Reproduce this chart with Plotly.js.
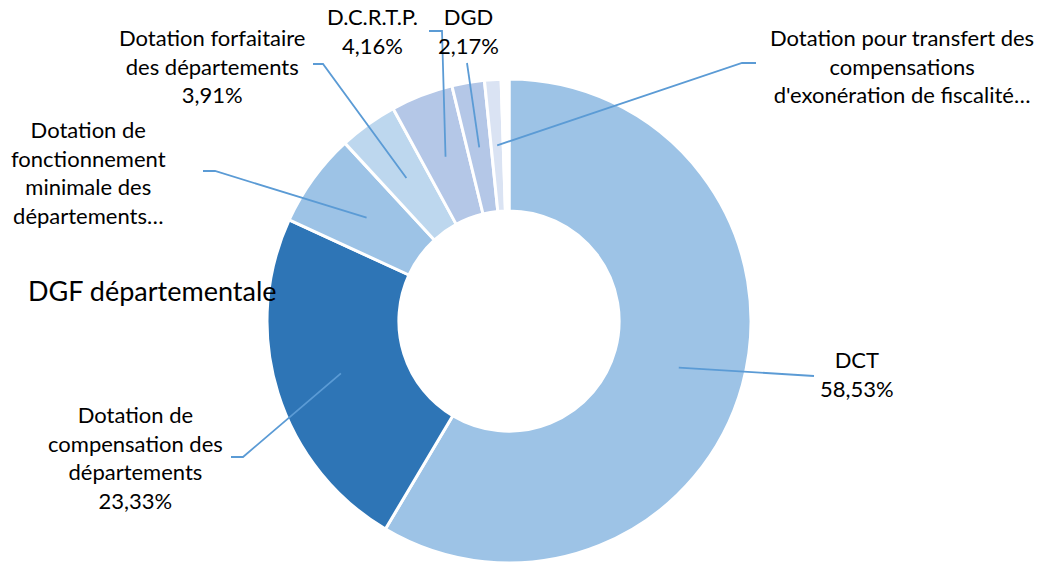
<!DOCTYPE html>
<html>
<head>
<meta charset="utf-8">
<script src="https://cdn.plot.ly/plotly-3.0.1.min.js"></script>
<style>html,body{margin:0;padding:0;background:#fff;}#chart{width:1040px;height:567px;}</style>
</head>
<body>
<div id="chart"></div>
<script>
// ---- data ----
const categories = [
  "DCT",
  "Dotation de compensation des départements",
  "Dotation de fonctionnement minimale des départements",
  "Dotation forfaitaire des départements",
  "D.C.R.T.P.",
  "DGD",
  "Dotation pour transfert des compensations d'exonération de fiscalité",
  ""
];
const shares = [58.53, 23.33, 6.28, 3.91, 4.16, 2.17, 1.10, 0.52];
const labelTexts = [
  "DCT<br>58,53%",
  "Dotation de<br>compensation des<br>départements<br>23,33%",
  "Dotation de<br>fonctionnement<br>minimale des<br>départements…",
  "Dotation forfaitaire<br>des départements<br>3,91%",
  "D.C.R.T.P.<br>4,16%",
  "DGD<br>2,17%",
  "Dotation pour transfert des<br>compensations<br>d'exonération de fiscalité…",
  ""
];
const sliceColors = ["#9DC3E6", "#2E75B6", "#9DC3E6", "#BDD7EE", "#B4C7E7", "#B4C7E7", "#DAE3F3", "#FFFFFF"];
const chartTitle = "DGF départementale";

// ---- layout settings (pixels) ----
const W = 1040, H = 567;
const CX = 509, CY = 321, R = 242, HOLE = 0.455;
// label centre, elbow point and end point of each leader line
const labelPos = [
  {x: 857, y: 374, elbow: [814, 376], end: [814, 376]},
  {x: 135, y: 457, elbow: [243, 457], end: [231, 457]},
  {x: 88,  y: 173, elbow: [215, 171], end: [203, 171]},
  {x: 212, y: 66,  elbow: [323, 64],  end: [313, 64]},
  {x: 372, y: 31,  elbow: [442, 31],  end: [429, 31]},
  {x: 468, y: 31,  elbow: [467, 63],  end: [467, 63]},
  {x: 902, y: 66,  elbow: [742, 63],  end: [756, 63]},
  null
];

const px = x => x / W;
const py = y => 1 - y / H;

const trace = {
  type: "pie",
  labels: categories,
  values: shares,
  sort: false,
  direction: "clockwise",
  rotation: 0,
  hole: HOLE,
  textinfo: "none",
  hoverinfo: "label+percent",
  marker: {colors: sliceColors, line: {color: "#FFFFFF", width: 3}},
  domain: {x: [px(CX - R), px(CX + R)], y: [py(CY + R), py(CY - R)]},
  showlegend: false
};

const total = shares.reduce((a, b) => a + b, 0);
const shapes = [];
const annotations = [];
let cum = 0;
const rMid = R * (1 + HOLE) / 2;
shares.forEach((v, i) => {
  const mid = (cum + v / 2) / total * 2 * Math.PI;
  cum += v;
  const lp = labelPos[i];
  if (!lp) return;
  const ax = CX + rMid * Math.sin(mid);
  const ay = CY - rMid * Math.cos(mid);
  shapes.push({
    type: "path", xref: "paper", yref: "paper",
    path: `M ${px(ax)},${py(ay)} L ${px(lp.elbow[0])},${py(lp.elbow[1])} L ${px(lp.end[0])},${py(lp.end[1])}`,
    line: {color: "#5B9BD5", width: 1.8}
  });
  annotations.push({
    xref: "paper", yref: "paper", x: px(lp.x), y: py(lp.y),
    xanchor: "center", yanchor: "middle", align: "center",
    text: labelTexts[i], showarrow: false,
    font: {family: "Lato, sans-serif", size: 22, color: "#000000"}
  });
});
annotations.push({
  xref: "paper", yref: "paper", x: px(152), y: py(290),
  xanchor: "center", yanchor: "middle", showarrow: false,
  text: chartTitle,
  font: {family: "Lato, sans-serif", size: 27, color: "#000000"}
});

const layout = {
  width: W, height: H,
  margin: {l: 0, r: 0, t: 0, b: 0},
  paper_bgcolor: "#FFFFFF",
  plot_bgcolor: "#FFFFFF",
  showlegend: false,
  shapes: shapes,
  annotations: annotations
};

Plotly.newPlot("chart", [trace], layout, {displayModeBar: false, staticPlot: true});
</script>
</body>
</html>
